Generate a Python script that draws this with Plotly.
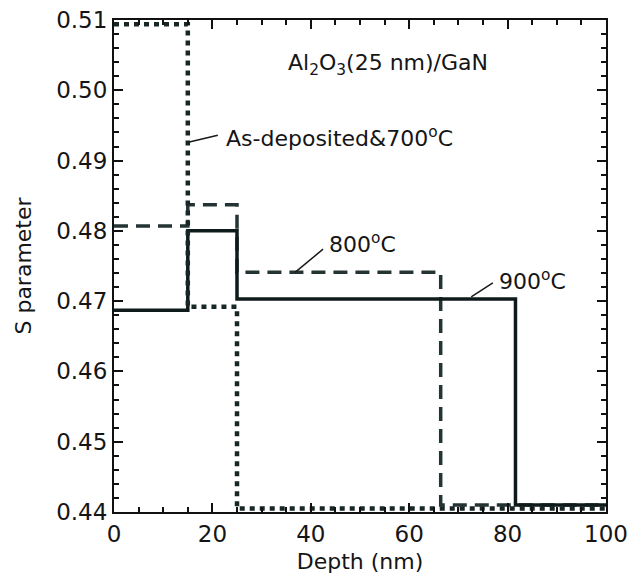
import plotly.graph_objects as go

# Step profiles: layer boundaries (nm) and S values
x_asdep = [0, 15, 25, 100]
s_asdep = [0.5094, 0.4692, 0.4405, 0.4405]

x_800 = [0, 15, 25, 66.4, 100]
s_800 = [0.4807, 0.4837, 0.4741, 0.4410, 0.4410]

x_900 = [0, 15, 25, 81.6, 100]
s_900 = [0.4687, 0.4800, 0.4703, 0.4410, 0.4410]

y_ticks = [0.44, 0.45, 0.46, 0.47, 0.48, 0.49, 0.50, 0.51]
y_ticklabels = ["0.44", "0.45", "0.46", "0.47", "0.48", "0.49", "0.50", "0.51"]

FONT = "DejaVu Sans, Arial, sans-serif"
INK = "#151515"

fig = go.Figure()
fig.add_trace(go.Scatter(x=x_800, y=s_800, mode="lines", line_shape="hv",
                         line=dict(color="#243434", width=3.5, dash="14px,8px"),
                         showlegend=False))
fig.add_trace(go.Scatter(x=x_900, y=s_900, mode="lines", line_shape="hv",
                         line=dict(color="#0f1b1b", width=3.5),
                         showlegend=False))
fig.add_trace(go.Scatter(x=x_asdep, y=s_asdep, mode="lines", line_shape="hv",
                         line=dict(color="#182626", width=4.5, dash="5px,5px"),
                         showlegend=False))

# leader lines
leaders = [((15.1, 0.4926), (21.1, 0.4936)),
           ((36.8, 0.4741), (42.5, 0.4774)),
           ((72.6, 0.4706), (77.0, 0.4726))]
for (x0, y0), (x1, y1) in leaders:
    fig.add_shape(type="line", x0=x0, y0=y0, x1=x1, y1=y1, xref="x", yref="y",
                  line=dict(color="#1a1a1a", width=1.5))

ann_font = dict(family=FONT, size=22, color=INK)
fig.add_annotation(x=55.7, y=0.5036, text="Al<sub>2</sub>O<sub>3</sub>(25 nm)/GaN",
                   showarrow=False, xanchor="center", yanchor="middle", font=ann_font)
fig.add_annotation(x=22.4, y=0.4934, text="As-deposited&amp;700<sup>o</sup>C",
                   showarrow=False, xanchor="left", yanchor="middle", font=ann_font)
fig.add_annotation(x=43.2, y=0.4783, text="800<sup>o</sup>C",
                   showarrow=False, xanchor="left", yanchor="middle", font=ann_font)
fig.add_annotation(x=77.8, y=0.4730, text="900<sup>o</sup>C",
                   showarrow=False, xanchor="left", yanchor="middle", font=ann_font)

axis_common = dict(showgrid=False, zeroline=False, showline=True, linecolor="#111111",
                   linewidth=2, mirror="allticks", ticks="inside", ticklen=9, tickwidth=2,
                   tickcolor="#111111", automargin=False, ticklabeloverflow="allow",
                   tickfont=dict(family=FONT, size=23, color=INK))

fig.update_xaxes(range=[0, 100], tick0=0, dtick=20,
                 minor=dict(dtick=5, ticks="inside", ticklen=5, tickwidth=2, tickcolor="#111111"),
                 title=dict(text="Depth (nm)", font=dict(family=FONT, size=22, color=INK), standoff=8),
                 **axis_common)
fig.update_yaxes(range=[0.44, 0.51000001], tickmode="array", tickvals=y_ticks,
                 ticktext=y_ticklabels,
                 minor=dict(tick0=0.44, dtick=0.002, ticks="inside", ticklen=5, tickwidth=2,
                            tickcolor="#111111"),
                 title=dict(text="S parameter", font=dict(family=FONT, size=22, color=INK), standoff=18),
                 **axis_common)

# page body adds an 8px offset, so the figure is 8px smaller than the window
fig.update_layout(width=635, height=570, paper_bgcolor="white", plot_bgcolor="white",
                  margin=dict(l=106, r=37, t=12, b=66), showlegend=False)

fig.write_html("out.html")
